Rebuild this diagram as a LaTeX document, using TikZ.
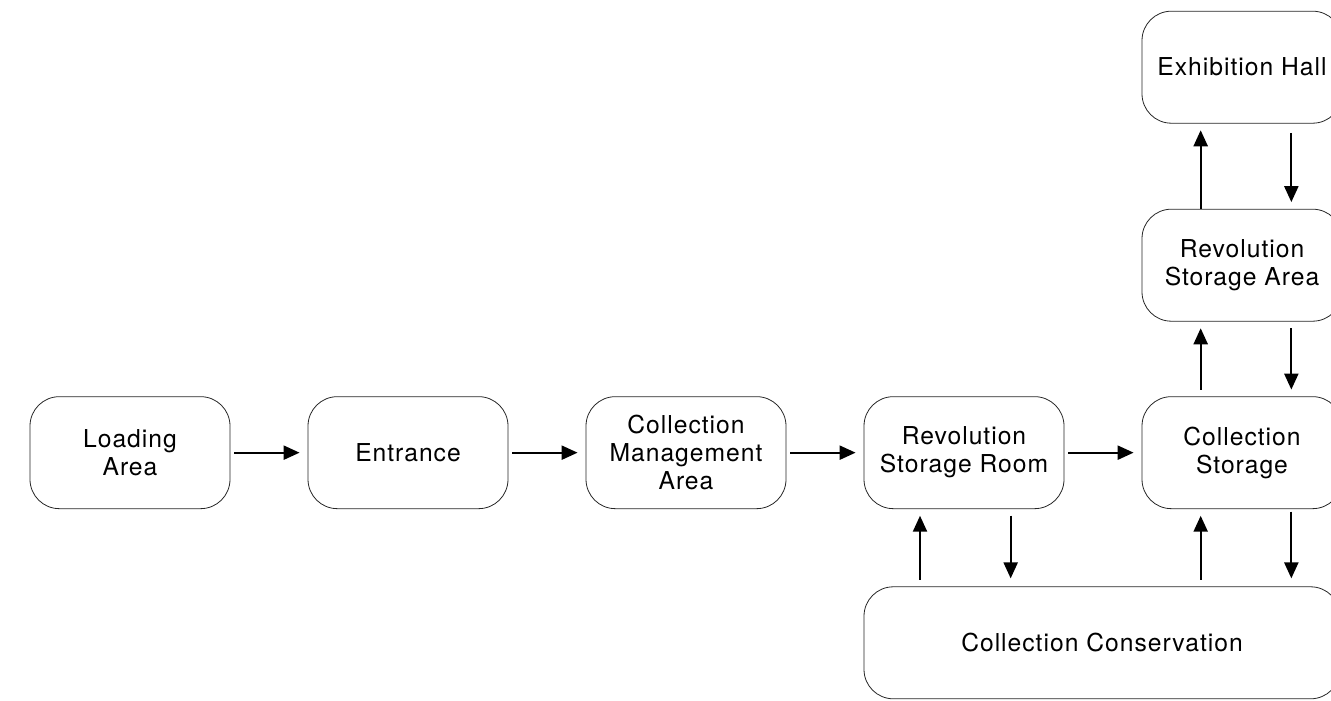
\documentclass[tikz,border=0pt]{standalone}
\usepackage{fontspec}
\setmainfont[LetterSpace=4]{TeX Gyre Heros}
\usetikzlibrary{positioning,arrows.meta}

\tikzstyle{room} = [rectangle, rounded corners=22pt, minimum width=150pt, minimum height=84pt, align=center, draw=black!85, line width=0.6pt, font=\fontsize{18.5}{21}\selectfont]
\tikzstyle{flow} = [line width=1.7pt,->,>={Triangle[length=12pt,width=10.5pt]}]

\begin{document}
\begin{tikzpicture}[node distance=208.5pt]
      \useasboundingbox (0,0) rectangle (998.25pt,525pt);
      \node (load) [room] at (97.5pt,185.5pt) {Loading\\Area};
      \node (ent) [room, right of=load] {Entrance};
      \node (cma) [room, right of=ent] {Collection\\Management\\Area};
      \node (rsr) [room, right of=cma] {Revolution\\Storage Room};
      \node (cs) [room, right of=rsr] {Collection\\Storage};
      \node (rsa) [room, above of=cs, node distance=140.6pt] {Revolution\\Storage Area};
      \node (eh) [room, above of=rsa, node distance=148.5pt] {Exhibition Hall};
      \node (cons) [room, minimum width=357pt, anchor=north west] at ([yshift=-58pt]rsr.south west) {Collection Conservation};

      \draw [flow, shorten <=3pt, shorten >=6pt] (load) -- (ent);
      \draw [flow, shorten <=3pt, shorten >=6pt] (ent) -- (cma);
      \draw [flow, shorten <=3pt, shorten >=6pt] (cma) -- (rsr);
      \draw [flow, shorten <=3pt, shorten >=6pt] (rsr) -- (cs);

      \draw [flow, shorten <=5pt, shorten >=5pt] ([xshift=-33pt]rsr.south |- cons.north) -- ([xshift=-33pt]rsr.south);
      \draw [flow, shorten <=5pt, shorten >=6pt] ([xshift=35pt]rsr.south) -- ([xshift=35pt]rsr.south |- cons.north);
      \draw [flow, shorten <=5pt, shorten >=5pt] ([xshift=-31pt]cs.south |- cons.north) -- ([xshift=-31pt]cs.south);
      \draw [flow, shorten <=2pt, shorten >=6pt] ([xshift=37pt]cs.south) -- ([xshift=37pt]cs.south |- cons.north);

      \draw [flow, shorten <=5pt, shorten >=5pt] ([xshift=-31pt]cs.north) -- ([xshift=-31pt]rsa.south);
      \draw [flow, shorten <=5pt, shorten >=5pt] ([xshift=37pt]rsa.south) -- ([xshift=37pt]cs.north);
      \draw [flow, shorten <=0pt, shorten >=5pt] ([xshift=-31pt]rsa.north) -- ([xshift=-31pt]eh.south);
      \draw [flow, shorten <=7pt, shorten >=5pt] ([xshift=37pt]eh.south) -- ([xshift=37pt]rsa.north);
\end{tikzpicture}
\end{document}
